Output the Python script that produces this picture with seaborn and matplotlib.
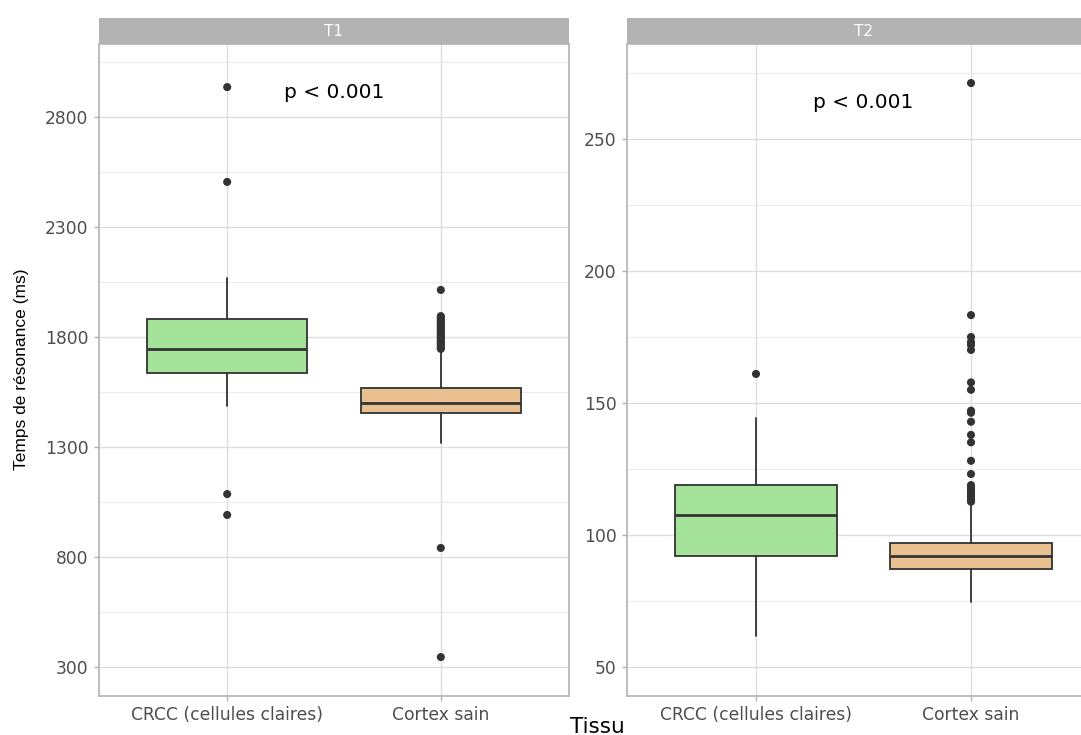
import matplotlib
matplotlib.use("Agg")
import matplotlib.pyplot as plt
import pandas as pd
import seaborn as sns

# categories and panels
categories = ["CRCC (cellules claires)", "Cortex sain"]
panels = ["T1", "T2"]
box_colors = ["#A6E39A", "#E9C08F"]

# T1 box statistics (ms): whisker low, q1, median, q3, whisker high
t1_whislo = [1486, 1318]
t1_q1 = [1636, 1455]
t1_med = [1745, 1500]
t1_q3 = [1882, 1568]
t1_whishi = [2068, 1738]
t1_out_crcc = [2936, 2505, 1086, 991]
t1_out_cortex = [2014, 1895, 1888, 1880, 1872, 1865, 1858, 1850, 1842, 1835,
                 1828, 1820, 1812, 1805, 1798, 1790, 1782, 1775, 1768, 1760,
                 1752, 1746, 841, 345]

# T2 box statistics (ms)
t2_whislo = [61.7, 74.5]
t2_q1 = [92.0, 87.0]
t2_med = [107.6, 92.2]
t2_q3 = [118.9, 97.0]
t2_whishi = [144.3, 112.0]
t2_out_crcc = [161.0]
t2_out_cortex = [271.2, 183.3, 175.0, 173.1, 172.0, 170.1, 157.8, 155.0,
                 147.1, 146.3, 142.9, 137.9, 135.1, 128.1, 123.1, 118.9,
                 118.0, 117.2, 116.4, 115.6, 114.8, 114.0, 113.2, 112.6]

p_text = ["p < 0.001", "p < 0.001"]
p_y = [2910, 264]

t1_ticks = [300, 800, 1300, 1800, 2300, 2800]
t2_ticks = [50, 100, 150, 200, 250]
t1_lim = (168, 3132)
t2_lim = (39, 286)

sns.set_theme(style="whitegrid")
plt.rcParams["font.family"] = ["DejaVu Sans"]


def make_stats(whislo, q1, med, q3, whishi):
    return [
        {"whislo": a, "q1": b, "med": c, "q3": d, "whishi": e, "fliers": [], "label": cat}
        for a, b, c, d, e, cat in zip(whislo, q1, med, q3, whishi, categories)
    ]


fig = plt.figure(figsize=(10.81, 7.35), dpi=100)
H = 735.0
W = 1081.0
ax_bottom = 1 - 696 / H
ax_height = (696 - 44) / H
strip_h = 26 / H
specs = [
    (99 / W, 470 / W, make_stats(t1_whislo, t1_q1, t1_med, t1_q3, t1_whishi),
     [t1_out_crcc, t1_out_cortex], t1_ticks, t1_lim),
    (627 / W, 473 / W, make_stats(t2_whislo, t2_q1, t2_med, t2_q3, t2_whishi),
     [t2_out_crcc, t2_out_cortex], t2_ticks, t2_lim),
]

grey_edge = "#333333"
for i, (x0, w, stats, outs, ticks, lim) in enumerate(specs):
    ax = fig.add_axes([x0, ax_bottom, w, ax_height])
    ax.set_facecolor("white")
    bp = ax.bxp(stats, positions=[1, 2], widths=0.75, patch_artist=True,
                showfliers=False, showcaps=False,
                boxprops=dict(edgecolor=grey_edge, linewidth=1.3),
                whiskerprops=dict(color=grey_edge, linewidth=1.3),
                medianprops=dict(color=grey_edge, linewidth=2.0))
    for patch, col in zip(bp["boxes"], box_colors):
        patch.set_facecolor(col)
    rows = []
    for pos, vals in zip([1, 2], outs):
        for v in vals:
            rows.append({"x": pos, "y": v})
    df = pd.DataFrame(rows)
    sns.scatterplot(data=df, x="x", y="y", ax=ax, color=grey_edge, s=34,
                    edgecolor="none", zorder=4, legend=False)
    step = ticks[1] - ticks[0]
    ax.set_xticks([1, 2])
    ax.set_xticklabels(categories)
    ax.set_yticks(ticks)
    ax.set_yticks([t + step / 2 for t in [ticks[0] - step] + ticks], minor=True)
    ax.set_xlim(0.4, 2.6)
    ax.set_ylim(*lim)
    ax.grid(True, which="major", color="#DEDEDE", linewidth=1.0)
    ax.grid(True, which="minor", axis="y", color="#EBEBEB", linewidth=0.7)
    ax.set_axisbelow(True)
    ax.tick_params(axis="both", which="major", labelsize=12.3, labelcolor="#4D4D4D",
                   length=3.5, color="#B3B3B3", width=1, pad=4, left=True, bottom=True)
    ax.tick_params(axis="both", which="minor", length=0)
    for sp in ax.spines.values():
        sp.set_color("#B3B3B3")
        sp.set_linewidth(1.2)
    ax.set_xlabel("")
    ax.set_ylabel("")
    ax.text(1.5, p_y[i], p_text[i], ha="center", va="center", fontsize=14.5, color="black")

    sax = fig.add_axes([x0, ax_bottom + ax_height, w, strip_h])
    sax.set_facecolor("#B3B3B3")
    sax.set_xticks([])
    sax.set_yticks([])
    sax.grid(False)
    for sp in sax.spines.values():
        sp.set_visible(False)
    sax.text(0.5, 0.5, panels[i], transform=sax.transAxes, ha="center", va="center",
             color="white", fontsize=11)

fig.text(597 / W, 1 - 733 / H, "Tissu", ha="center", va="baseline", fontsize=15.5, color="black")
fig.text(22 / W, 1 - 369 / H, "Temps de résonance (ms)", rotation=90, ha="center",
         va="center", fontsize=12.5, color="black", family=["Liberation Sans", "DejaVu Sans"])

fig.savefig("out.png", dpi=100)
